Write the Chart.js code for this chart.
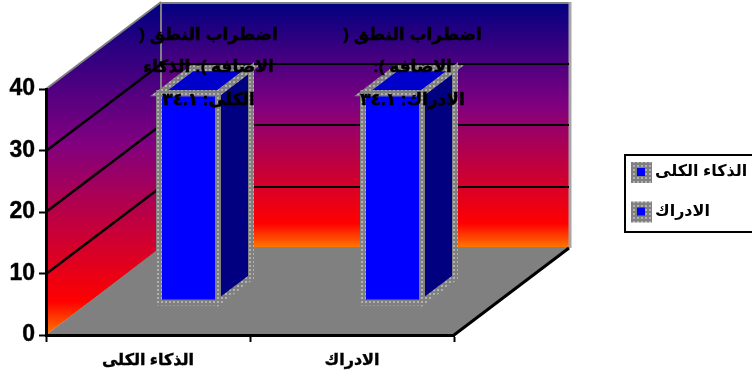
<!DOCTYPE html>
<html>
<head>
<meta charset="utf-8">
<script src="https://cdn.jsdelivr.net/npm/chart.js@4"></script>
<style>
body { margin: 0; background: #fff; overflow: hidden; }
canvas { display: block; }
</style>
</head>
<body>
<canvas id="chart" width="752" height="378"></canvas>
<script>
// data
const categories = ["الذكاء الكلى", "الادراك"];
const values = [34.1, 34.1];
const seriesName = "اضطراب النطق";
const labelLines = [
  ["اضطراب النطق (", "الاضافة ): الذكاء", "الكلى: "],
  ["اضطراب النطق (", "الاضافة ):", "الادراك: "]
];

const font = "'Liberation Sans', 'DejaVu Sans', sans-serif";

// box depth: back wall offset and bar offset from the front plane
const wallDx = 115, wallDy = -87;
const barDx = 40.5, barDy = -32;
const sideDx = 33, sideDy = -25;

function arabicDigits(v) {
  return String(v).replace(/\d/g, d => "٠١٢٣٤٥٦٧٨٩"[d]);
}

// dotted grey used for bar outlines and legend swatches
function dotPattern(ctx) {
  const c = document.createElement("canvas");
  c.width = 4; c.height = 4;
  const g = c.getContext("2d");
  g.fillStyle = "#808080";
  g.fillRect(0, 0, 4, 4);
  g.fillStyle = "#b0b0b0";
  g.fillRect(1, 1, 2, 2);
  return ctx.createPattern(c, "repeat");
}

function wallGradient(ctx, top, bottom) {
  const g = ctx.createLinearGradient(0, top, 0, bottom);
  g.addColorStop(0, "#000080");
  g.addColorStop(0.42, "#800080");
  g.addColorStop(0.9, "#ff0000");
  g.addColorStop(1, "#ff7a00");
  return g;
}

function poly(ctx, pts) {
  ctx.beginPath();
  pts.forEach((p, i) => i ? ctx.lineTo(p[0], p[1]) : ctx.moveTo(p[0], p[1]));
  ctx.closePath();
}

function line(ctx, x1, y1, x2, y2) {
  ctx.beginPath();
  ctx.moveTo(x1, y1);
  ctx.lineTo(x2, y2);
  ctx.stroke();
}

// walls, floor and grid
const box3d = {
  id: "box3d",
  beforeDraw(chart) {
    const { ctx, chartArea: a, scales } = chart;
    const l = a.left, r = a.right, t = a.top, b = a.bottom;
    const bl = l + wallDx, br = r + wallDx, bt = t + wallDy, bb = b + wallDy;
    ctx.save();

    ctx.fillStyle = wallGradient(ctx, bt, bb);
    ctx.fillRect(bl, bt, br - bl, bb - bt);

    // side wall: same colours, stretched down to the front corner
    poly(ctx, [[l, b], [l, t], [bl, bt], [bl, bb]]);
    ctx.fillStyle = wallGradient(ctx, bt, b);
    ctx.fill();

    ctx.fillStyle = "#808080";
    poly(ctx, [[l, b], [bl, bb - 1], [br, bb - 1], [r, b]]);
    ctx.fill();

    // frame around the walls
    ctx.strokeStyle = "#808080";
    ctx.lineWidth = 2;
    line(ctx, l, t, bl, bt);
    line(ctx, bl, bt + 1, br + 1, bt + 1);
    line(ctx, bl, bt, bl, bb);
    ctx.strokeStyle = "#a6a6a6";
    ctx.lineWidth = 3;
    line(ctx, br + 1, bt, br + 1, bb);

    ctx.strokeStyle = "#000";
    scales.y.ticks.forEach(tk => {
      if (tk.value === 0 || tk.value === scales.y.max) return;
      const y = Math.round(scales.y.getPixelForValue(tk.value));
      ctx.lineWidth = 2.5;
      line(ctx, l, y, bl, y + wallDy);
      ctx.lineWidth = 2;
      line(ctx, bl, y + wallDy, br, y + wallDy);
    });

    ctx.lineWidth = 3;
    line(ctx, r, b, br, bb);
    ctx.restore();
  },
  // the bars stand on the floor, back from the axis line
  beforeDatasetDraw(chart) {
    chart.ctx.save();
    chart.ctx.translate(barDx, barDy);
  },
  afterDatasetDraw(chart, args) {
    const ctx = chart.ctx;
    ctx.restore();
    const dots = dotPattern(ctx);
    ctx.save();
    args.meta.data.forEach(bar => {
      const x1 = bar.x + barDx - bar.width / 2;
      const x2 = bar.x + barDx + bar.width / 2;
      const top = bar.y + barDy;
      const bot = bar.base + barDy;
      const side = [[x2, top], [x2 + sideDx, top + sideDy], [x2 + sideDx, bot + sideDy], [x2, bot]];
      const lid = [[x1, top], [x1 + sideDx, top + sideDy], [x2 + sideDx, top + sideDy], [x2, top]];
      ctx.fillStyle = "#000080";
      poly(ctx, side);
      ctx.fill();
      ctx.fillStyle = "#0000cc";
      poly(ctx, lid);
      ctx.fill();
      ctx.strokeStyle = dots;
      ctx.lineWidth = 6;
      ctx.lineJoin = "miter";
      poly(ctx, side);
      ctx.stroke();
      poly(ctx, lid);
      ctx.stroke();
      ctx.strokeRect(x1, top, x2 - x1, bot - top);
    });
    ctx.restore();
  },
  afterDatasetsDraw(chart) {
    const ctx = chart.ctx;
    const meta = chart.getDatasetMeta(0);
    ctx.save();
    ctx.direction = "rtl";
    ctx.textAlign = "center";
    ctx.textBaseline = "middle";
    ctx.fillStyle = "#000";
    ctx.strokeStyle = "#000";
    ctx.lineWidth = 0.5;
    ctx.font = "bold 17px " + font;
    meta.data.forEach((bar, i) => {
      const lines = labelLines[i].slice();
      lines[2] += arabicDigits(values[i]);
      lines.forEach((s, n) => {
        const x = bar.x + barDx + 20;
        const y = bar.y + barDy - 58 + n * 32.5;
        ctx.fillText(s, x, y);
        ctx.strokeText(s, x, y);
      });
    });
    ctx.restore();
  }
};

// legend box, runs off the right edge
const sideLegend = {
  id: "sideLegend",
  afterDraw(chart) {
    const ctx = chart.ctx;
    const dots = dotPattern(ctx);
    ctx.save();
    ctx.strokeStyle = "#000";
    ctx.lineWidth = 2;
    ctx.strokeRect(625, 155, 140, 77);
    ctx.direction = "rtl";
    ctx.textAlign = "left";
    ctx.textBaseline = "middle";
    ctx.font = "bold 16px " + font;
    categories.forEach((name, i) => {
      const y = 172 + i * 39.5;
      ctx.fillStyle = dots;
      ctx.fillRect(631, y - 10, 21, 21);
      ctx.fillStyle = "#0000ff";
      ctx.fillRect(637, y - 4, 8, 8);
      ctx.fillStyle = "#000";
      ctx.fillText(name, 655, y);
    });
    ctx.restore();
  }
};

new Chart("chart", {
  type: "bar",
  data: {
    labels: categories,
    datasets: [{
      label: seriesName,
      data: values,
      backgroundColor: "#0000ff",
      borderWidth: 0,
      barThickness: 59
    }]
  },
  options: {
    responsive: false,
    animation: false,
    layout: { padding: { top: 89, right: 298, left: 0, bottom: 0 } },
    plugins: { legend: { display: false }, tooltip: { enabled: false } },
    scales: {
      x: {
        afterFit(s) { s.height = 43; },
        border: { color: "#000", width: 3 },
        grid: { drawOnChartArea: false, tickLength: 7, tickColor: "#000", tickWidth: 2 },
        ticks: {
          color: "#000",
          padding: 9,
          maxRotation: 0,
          textStrokeColor: "#000",
          textStrokeWidth: 0.4,
          font: { family: font, size: 16, weight: "bold" }
        }
      },
      y: {
        min: 0,
        max: 40,
        afterFit(s) { s.width = 46; },
        border: { color: "#000", width: 3 },
        grid: { drawOnChartArea: false, tickLength: 7, tickColor: "#000", tickWidth: 2 },
        ticks: {
          stepSize: 10,
          color: "#000",
          padding: 4,
          textStrokeColor: "#000",
          textStrokeWidth: 0.4,
          font: { family: font, size: 23, weight: "bold" }
        }
      }
    }
  },
  plugins: [box3d, sideLegend]
});
</script>
</body>
</html>
